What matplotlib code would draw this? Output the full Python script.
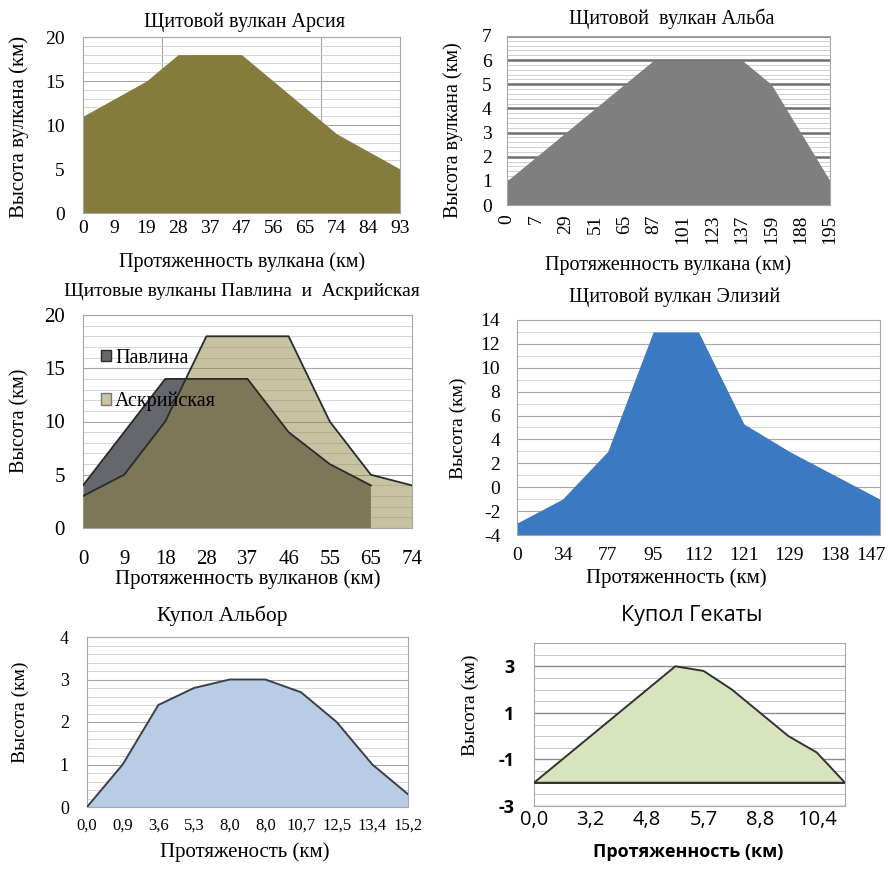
import numpy as np
import matplotlib
matplotlib.use("Agg")
import matplotlib.pyplot as plt
import matplotlib.transforms as mtransforms
from matplotlib.patches import Patch
from matplotlib.ticker import MultipleLocator, FixedLocator

plt.rcParams['axes.unicode_minus'] = False

# ---------------- data ----------------
arsia_labels = ['0', '9', '19', '28', '37', '47', '56', '65', '74', '84', '93']
arsia_height = [11, 13, 15, 18, 18, 18, 15, 12, 9, 7, 5]

alba_labels = ['0', '7', '29', '51', '65', '87', '101', '123', '137', '159', '188', '195']
alba_height = [1, 2, 3, 4, 5, 6, 6, 6, 6, 5, 3, 1]

pa_labels = ['0', '9', '18', '28', '37', '46', '55', '65', '74']
pavlina_height = [4, 9, 14, 14, 14, 9, 6, 4, np.nan]
ascraeus_height = [3, 5, 10, 18, 18, 18, 10, 5, 4]

elysium_labels = ['0', '34', '77', '95', '112', '121', '129', '138', '147']
elysium_height = [-3, -1, 3, 13, 13, 5.3, 3, 1, -1]

albor_labels = ['0,0', '0,9', '3,6', '5,3', '8,0', '8,0', '10,7', '12,5', '13,4', '15,2']
albor_height = [0, 1, 2.4, 2.8, 3, 3, 2.7, 2, 1, 0.3]

hecate_labels = ['0,0', '', '3,2', '', '4,8', '', '5,7', '', '8,8', '', '10,4', '']
hecate_height = [-2, -1, 0, 1, 2, 3, 2.8, 2, 1, 0, -0.7, -2]
hecate_base = -2

# ---------------- layout helpers ----------------
W, H = 888, 869
fig = plt.figure(figsize=(W / 100, H / 100), dpi=100)
SERIF = ['Liberation Serif', 'DejaVu Serif']
SANS = ['Open Sans', 'DejaVu Sans']


def axpos(x1, y1, x2, y2):
    return fig.add_axes([x1 / W, 1 - y2 / H, (x2 - x1) / W, (y2 - y1) / H])


def ftext(x, y, s, size=12, family=SERIF, rot=0, weight='normal'):
    fig.text(x / W, 1 - y / H, s, ha='center', va='center', fontsize=size,
             family=family, rotation=rot, weight=weight)


def style(ax, n, ylim, ymajor, yminor, xgrid, xsize, ysize, xpad, ypad,
          major_c='#a6a6a6', minor_c='#cfcfcf', major_lw=0.8, family=SERIF):
    ax.set_xlim(0, n - 1)
    ax.set_ylim(*ylim)
    ax.set_axisbelow(True)
    ax.yaxis.set_major_locator(MultipleLocator(ymajor))
    if yminor:
        ax.yaxis.set_minor_locator(MultipleLocator(yminor))
        ax.grid(True, axis='y', which='minor', color=minor_c, lw=0.6)
    ax.grid(True, axis='y', which='major', color=major_c, lw=major_lw)
    ax.xaxis.set_minor_locator(FixedLocator(xgrid))
    ax.grid(True, axis='x', which='minor', color='#a6a6a6', lw=0.8)
    ax.tick_params(which='both', length=0)
    ax.tick_params(axis='x', pad=xpad, labelsize=xsize)
    ax.tick_params(axis='y', pad=ypad, labelsize=ysize)
    for lab in ax.get_xticklabels() + ax.get_yticklabels():
        lab.set_family(family)
    for sp in ax.spines.values():
        sp.set_color('#a6a6a6')
        sp.set_linewidth(0.8)


# ---------------- 1. Arsia ----------------
ax = axpos(83, 37, 400, 213)
x = np.arange(len(arsia_labels))
ax.fill_between(x, 0, arsia_height, color='#857b3d', lw=0, zorder=2)
ax.set_xticks(x, arsia_labels)
style(ax, len(x), (0, 20), 5, 1, [2.5, 5, 7.5, 10], 14, 14, 5, 13)
ftext(245, 22, 'Щитовой вулкан Арсия', 14.5)
ftext(19, 127, 'Высота вулкана (км)', 15, rot=90)
ftext(242, 262, 'Протяженность вулкана (км)', 14.5)

# ---------------- 2. Alba ----------------
ax = axpos(507, 36, 830, 205)
x = np.arange(len(alba_labels))
ax.fill_between(x, 0, alba_height, color='#7f7f7f', lw=0, zorder=2)
ax.set_xticks(x, alba_labels, rotation=90)
style(ax, len(x), (0, 7), 1, 0.2, x[1:], 14, 14, 7, 11,
      major_c='#6e6e6e', minor_c='#c8c8c8', major_lw=1.8)
ftext(672, 19, 'Щитовой  вулкан Альба', 14.5)
ftext(453, 130, 'Высота вулкана (км)', 14.5, rot=90)
ftext(668, 265, 'Протяженность вулкана (км)', 14.5)

# ---------------- 3. Pavlina & Ascraeus ----------------
ax = axpos(83, 315, 412, 528)
x = np.arange(len(pa_labels))
pav = np.array(pavlina_height, dtype=float)
ok = np.isfinite(pav)
ax.fill_between(x[ok], 0, pav[ok], facecolor='#65676d', edgecolor='none', zorder=2)
ax.plot(x[ok], pav[ok], color='#2b2b2b', lw=1.3, zorder=4)
ax.fill_between(x, 0, ascraeus_height, facecolor='#918744', alpha=0.5,
                edgecolor='none', zorder=3)
ax.plot(x, ascraeus_height, color='#2b2b2b', lw=1.3, zorder=4)
ax.set_xticks(x, pa_labels)
style(ax, len(x), (0, 20), 5, 1, x[1:], 15, 15, 16, 13)
handles = [Patch(facecolor='#65676d', edgecolor='#2b2b2b', label='Павлина'),
           Patch(facecolor='#c9c4a6', edgecolor='#777777', label='Аскрийская')]
leg = ax.legend(handles=handles, loc='upper left', bbox_to_anchor=(0.03, 0.88),
                frameon=False, prop={'family': SERIF, 'size': 14.5},
                handlelength=0.5, handleheight=0.5, handletextpad=0.2,
                labelspacing=1.2, borderaxespad=0)
leg.set_zorder(6)
ftext(242, 292, 'Щитовые вулканы Павлина  и  Аскрийская', 14)
ftext(20, 421, 'Высота (км)', 14.5, rot=90)
ftext(248, 579, 'Протяженность вулканов (км)', 15)

# ---------------- 4. Elysium ----------------
ax = axpos(517, 320, 880, 535)
x = np.arange(len(elysium_labels))
ax.fill_between(x, -4, elysium_height, color='#3c79c3', lw=0, zorder=2)
ax.set_xticks(x, elysium_labels)
style(ax, len(x), (-4, 14), 2, 1, x[1:], 14, 14, 9, 12)
last = ax.get_xticklabels()[-1]
last.set_horizontalalignment('right')
last.set_transform(last.get_transform() +
                   mtransforms.ScaledTranslation(6 / 100, 0, fig.dpi_scale_trans))
ftext(675, 297, 'Щитовой вулкан Элизий', 14.5)
ftext(458, 428, 'Высота (км)', 14, rot=90)
ftext(676, 578, 'Протяженность (км)', 15)

# ---------------- 5. Albor ----------------
ax = axpos(87, 637, 408, 807)
x = np.arange(len(albor_labels))
ax.fill_between(x, 0, albor_height, facecolor='#b8cce6', edgecolor='none', zorder=2)
ax.plot(x, albor_height, color='#3d3f4a', lw=1.4, zorder=3)
ax.set_xticks(x, albor_labels)
style(ax, len(x), (0, 4), 1, 0.2, x[1:], 12, 13, 8, 13)
ftext(222, 616, 'Купол Альбор', 15.5)
ftext(20, 712, 'Высота (км)', 14, rot=90)
ftext(245, 852, 'Протяженость (км)', 15)

# ---------------- 6. Hecate ----------------
ax = axpos(534, 643, 845, 806)
x = np.arange(len(hecate_labels))
ax.fill_between(x, hecate_base, hecate_height, facecolor='#d7e4bd',
                edgecolor='none', zorder=2)
ax.plot(np.r_[x, x[0]], np.r_[hecate_height, hecate_height[0]],
        color='#333333', lw=1.4, zorder=3)
ax.axhline(hecate_base, color='#333333', lw=1.4, zorder=3)
ax.set_xticks(x, hecate_labels)
style(ax, len(x), (-3, 4), 2, 0.5, x[1:], 14.5, 13, 3, 14,
      major_c='#8c8c8c', minor_c='#bdbdbd', major_lw=1.0, family=SANS)
ax.yaxis.set_major_locator(FixedLocator([-3, -1, 1, 3]))
for lab in ax.get_yticklabels():
    lab.set_family(SANS)
    lab.set_weight('bold')
ax.grid(True, axis='x', which='minor', color='#8c8c8c', lw=1.0)
ftext(692, 616, 'Купол Гекаты', 15.5, family=SANS)
ftext(470, 705, 'Высота (км)', 14, rot=90)
ftext(688, 852, 'Протяженность (км)', 13, family=SANS, weight='bold')

fig.savefig('out.png', dpi=100)
